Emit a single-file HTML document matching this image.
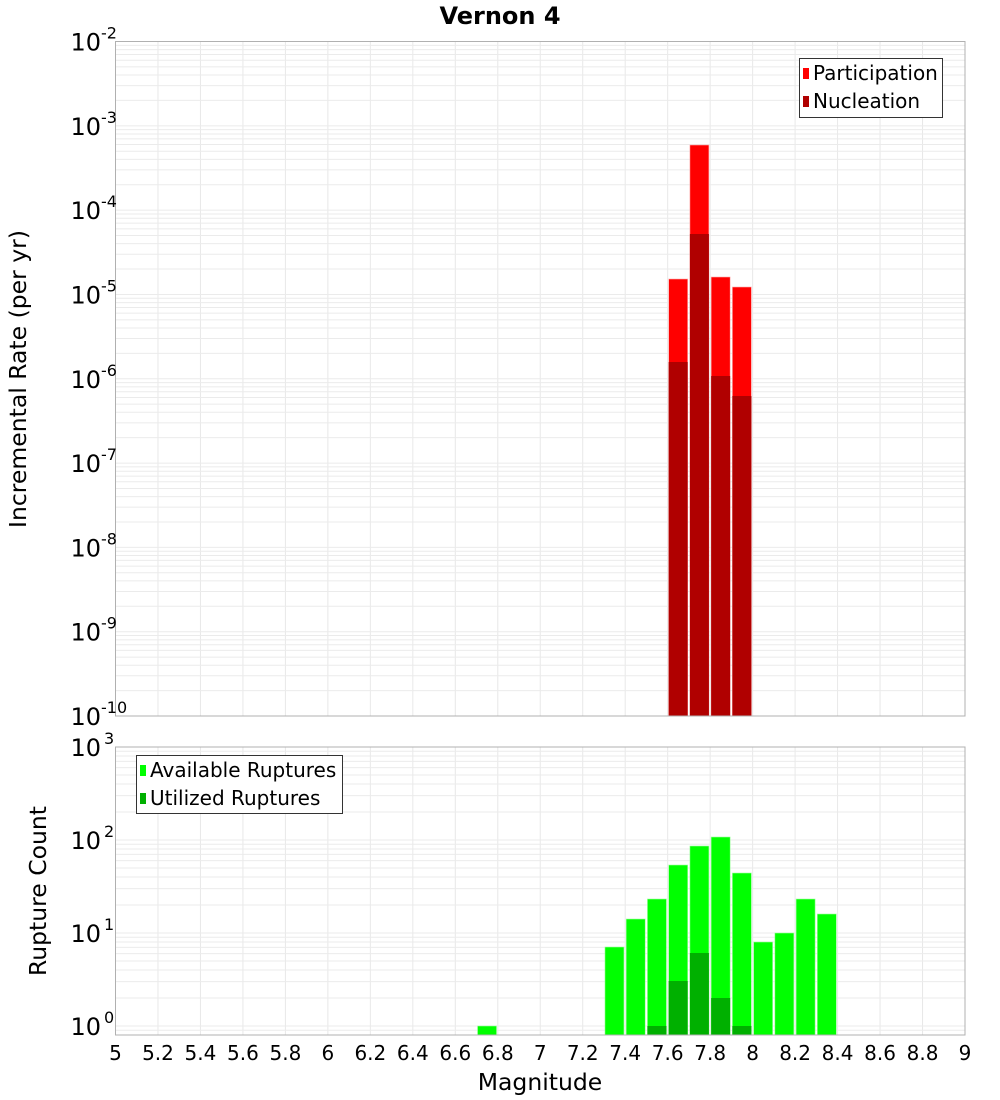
<!DOCTYPE html>
<html><head><meta charset="utf-8"><style>
body{margin:0;background:#fff}
svg{display:block;font-family:"DejaVu Sans","Liberation Sans",sans-serif}
</style></head><body>
<svg id="s" width="1000" height="1100" xmlns="http://www.w3.org/2000/svg"></svg>
<script>
const s=document.getElementById('s');let h='';
const X0=115.5,X1=965,px=(m)=>X0+(m-5)*(X1-X0)/4;
const T0=41.5,T1=716,td=(T1-T0)/8;
const B0=747,bd=93,B1=1035;
function grid(top,bot,dec,nDec){
  for(let m=5;m<=9.001;m+=0.2){const x=px(m);h+=`<line x1="${x}" y1="${top}" x2="${x}" y2="${bot}" stroke="#e8e8e8"/>`;}
  for(let d=0;d<nDec;d++){for(let k=1;k<=9;k++){const y=top+d*dec+dec*(1-Math.log10(k));if(y>top&&y<bot)h+=`<line x1="${X0}" y1="${y}" x2="${X1}" y2="${y}" stroke="#ebebeb"/>`;}}
}
grid(T0,T1,td,8);
grid(B0,B1,bd,4);
const P=[[7.6,279,362],[7.7,145,234],[7.8,277,376],[7.9,287,396]];
P.forEach(([m,p,n])=>{const x=px(m)+1;h+=`<rect x="${x}" y="${p}" width="19" height="${T1-p}" fill="#ff0000" stroke="#ffb0b0" stroke-width="0.6"/><rect x="${x}" y="${n}" width="19" height="${T1-n}" fill="#b00000"/>`;});
const A=[[6.7,1026],[7.3,947],[7.4,919],[7.5,899],[7.6,865],[7.7,846],[7.8,837],[7.9,873],[8.0,942],[8.1,933],[8.2,899],[8.3,914]];
A.forEach(([m,t])=>{h+=`<rect x="${px(m)+1}" y="${t}" width="19" height="${B1-t}" fill="#00ff00" stroke="#a0ffa0" stroke-width="0.6"/>`;});
const U=[[7.5,1026],[7.6,981],[7.7,953],[7.8,998],[7.9,1026]];
U.forEach(([m,t])=>{h+=`<rect x="${px(m)+1}" y="${t}" width="19" height="${B1-t}" fill="#00b000"/>`;});
h+=`<rect x="${X0}" y="${T0}" width="${X1-X0}" height="${T1-T0}" fill="none" stroke="#b0b0b0"/>`;
h+=`<rect x="${X0}" y="${B0}" width="${X1-X0}" height="${B1-B0}" fill="none" stroke="#b0b0b0"/>`;
for(let i=0;i<=8;i++){const y=T0+i*td;h+=`<text x="101" y="${y+9}" font-size="24" text-anchor="end">10</text><text x="101" y="${y-3}" font-size="16">${-2-i}</text>`;}
for(let i=0;i<=3;i++){const y=B0+i*bd;h+=`<text x="101" y="${y+9}" font-size="24" text-anchor="end">10</text><text x="104" y="${y-3}" font-size="16">${3-i}</text>`;}
for(let i=0;i<=20;i++){const m=5+i*0.2;let t=(Math.round(m*10)/10).toString();h+=`<text x="${px(m)}" y="1060" font-size="20" text-anchor="middle">${t}</text>`;}
h+=`<text x="540" y="1090" font-size="23.5" text-anchor="middle">Magnitude</text>`;
h+=`<text transform="translate(26,379) rotate(-90)" font-size="23.5" text-anchor="middle">Incremental Rate (per yr)</text>`;
h+=`<text transform="translate(46,891) rotate(-90)" font-size="23.5" text-anchor="middle">Rupture Count</text>`;
h+=`<text x="500" y="24" font-size="24" font-weight="bold" text-anchor="middle">Vernon 4</text>`;
h+=`<rect x="799.5" y="58.5" width="143" height="59" fill="#fff" stroke="#333"/>`;
h+=`<rect x="803" y="68" width="6" height="11" fill="#ff0000"/><text x="813" y="80" font-size="20">Participation</text>`;
h+=`<rect x="803" y="96" width="6" height="11" fill="#b00000"/><text x="813" y="108" font-size="20">Nucleation</text>`;
h+=`<rect x="136.5" y="755.5" width="206" height="58" fill="#fff" stroke="#333"/>`;
h+=`<rect x="140" y="765" width="6" height="11" fill="#00ff00"/><text x="150" y="777" font-size="20">Available Ruptures</text>`;
h+=`<rect x="140" y="793" width="6" height="11" fill="#00b000"/><text x="150" y="805" font-size="20">Utilized Ruptures</text>`;
s.innerHTML=h;
</script>
</body></html>
